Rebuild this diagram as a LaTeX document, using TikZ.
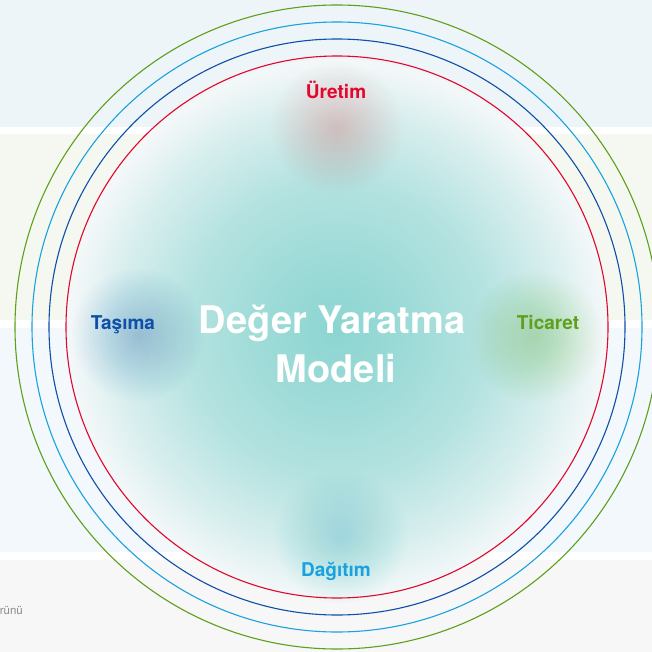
\documentclass[tikz,border=0pt]{standalone}
\usepackage{fontspec}
\setmainfont{TeX Gyre Heros}

\definecolor{uretimred}{HTML}{E3062F}
\definecolor{tasimablue}{HTML}{0E4FA8}
\definecolor{ticaretgreen}{HTML}{5E9F1C}
\definecolor{dagitimblue}{HTML}{1AA2DE}
\definecolor{bandtop}{HTML}{EEF5F9}
\definecolor{bandmid}{HTML}{F5F8F1}
\definecolor{bandlow}{HTML}{F2F8FC}
\definecolor{bandfoot}{HTML}{F7F7F7}
\definecolor{coreteal}{HTML}{8CD5D1}
\definecolor{ringedge}{HTML}{F2F7F8}
\definecolor{footgrey}{HTML}{8A8A8A}

\pgfdeclareradialshading{coreglow}{\pgfpoint{0bp}{0bp}}{color(0bp)=(coreteal);
  color(6bp)=(coreteal!85!ringedge); color(14bp)=(coreteal!60!ringedge);
  color(20bp)=(coreteal!28!ringedge); color(24.5bp)=(ringedge); color(50bp)=(ringedge)}

\begin{document}
\begin{tikzpicture}[x=1pt, y=-1pt,
  ring/.style={line width=1.1pt},
  stage/.style={font=\bfseries\fontsize{19}{23}\selectfont, inner sep=0pt, anchor=base},
  title/.style={font=\bfseries\fontsize{38}{46}\selectfont, text=white, inner sep=0pt, anchor=base}]
\useasboundingbox (0,0) rectangle (652,652);
\clip (0,0) rectangle (652,652);

% background bands
\fill[bandtop] (0,0) rectangle (652,127);
\fill[white] (0,127) rectangle (652,134);
\fill[bandmid] (0,134) rectangle (652,320);
\fill[white] (0,320) rectangle (652,328);
\fill[bandlow] (0,328) rectangle (652,552);
\fill[white] (0,552) rectangle (652,560);
\fill[bandfoot] (0,560) rectangle (652,652);

\coordinate (hub) at (337,330);

% soft glows
\shade[shading=coreglow] (hub) circle (271);
\foreach \r in {3,6,...,66} {
  \fill[uretimred, fill opacity=0.009] (337,128) circle (\r);
  \fill[tasimablue, fill opacity=0.012] (138,335) circle (\r);
  \fill[ticaretgreen, fill opacity=0.010] (536,337) circle (\r);
  \fill[dagitimblue, fill opacity=0.013] (341,538) circle (\r);
}

% rings
\draw[ring, uretimred] (337,327) circle (271);
\draw[ring, tasimablue] (337,327) circle (288);
\draw[ring, dagitimblue] (337,327) circle (305);
\draw[ring, ticaretgreen] (337,327) circle (322);

% labels
\node[stage, text=uretimred] (uretim) at (336,99) {Üretim};
\node[stage, text=tasimablue] (tasima) at (123,329) {Taşıma};
\node[stage, text=ticaretgreen] (ticaret) at (548,329) {Ticaret};
\node[stage, text=dagitimblue] (dagitim) at (336,576) {Dağıtım};

\node[title] (model) at (332,333) {Değer Yaratma};
\node[title] (modeli) at (336,382) {Modeli};

\node[font=\fontsize{11.5}{14}\selectfont, text=footgrey, inner sep=0pt, anchor=base east] (urun) at (23,614) {rünü};
\end{tikzpicture}
\end{document}
